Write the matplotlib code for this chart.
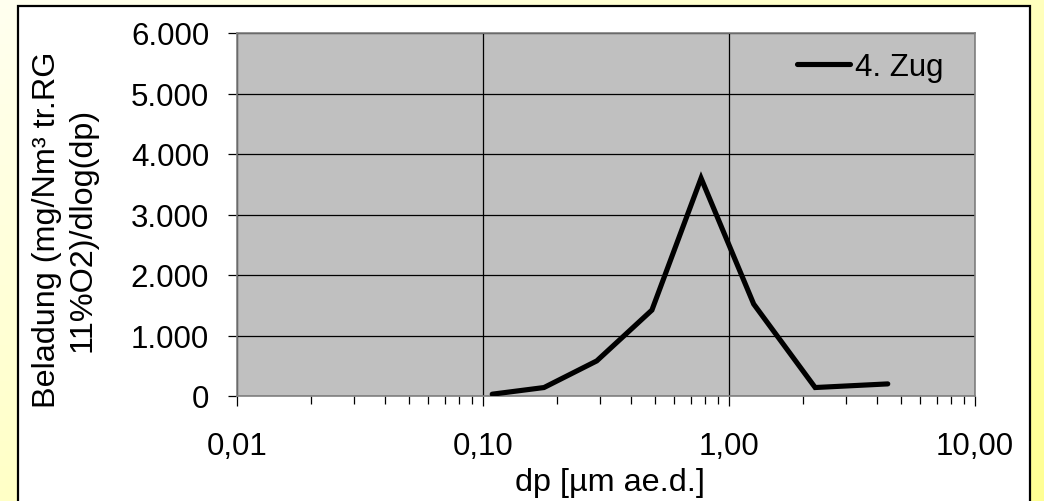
import numpy as np
import matplotlib
matplotlib.use('Agg')
import matplotlib.pyplot as plt
from matplotlib.patches import Rectangle
from matplotlib.ticker import FuncFormatter, LogLocator, FixedLocator

plt.rcParams['font.family'] = ['Liberation Sans', 'DejaVu Sans']

# particle size distribution, 4. Zug
dp = [0.109, 0.177, 0.29, 0.486, 0.77, 1.26, 2.24, 4.42]
beladung = [30, 140, 580, 1420, 3600, 1520, 140, 200]
series_name = '4. Zug'

x_ticks = [0.01, 0.1, 1.0, 10.0]
y_ticks = [0, 1000, 2000, 3000, 4000, 5000, 6000]

FS = 22.5
FS_TITLE = 23.3

fig = plt.figure(figsize=(10.44, 5.02), dpi=100)

# yellow gradient behind the chart area
bg = fig.add_axes([0, 0, 1, 1], zorder=-10)
gx, gy = np.meshgrid(np.linspace(0, 1, 200), np.linspace(0, 1, 100))
grad = np.clip(0.55 * gx + 0.45 * gy, 0, 1)
c0 = np.array([1.0, 1.0, 0.94])
c1 = np.array([1.0, 1.0, 0.58])
img = c0[None, None, :] * (1 - grad[..., None]) + c1[None, None, :] * grad[..., None]
bg.imshow(img, aspect='auto', extent=[0, 1, 0, 1], origin='upper')
bg.axis('off')

# white chart area with black frame
fig.add_artist(Rectangle((18 / 1044, -0.02), (1030 - 18) / 1044, 1.02 - 7 / 502,
                         transform=fig.transFigure, facecolor='white',
                         edgecolor='black', linewidth=1.6, zorder=-5))

ax = fig.add_axes([237 / 1044, 1 - 397 / 502, (975 - 237) / 1044, (397 - 34) / 502])
ax.set_facecolor('#c0c0c0')
ax.plot(dp, beladung, color='black', linewidth=3.7, solid_joinstyle='miter',
        solid_capstyle='round', label=series_name, zorder=3)

ax.set_xscale('log')
ax.set_xlim(0.01, 10)
ax.set_ylim(0, 6000)
ax.xaxis.set_major_locator(FixedLocator(x_ticks))
ax.xaxis.set_minor_locator(LogLocator(base=10, subs=np.arange(2, 10)))
ax.xaxis.set_minor_formatter(FuncFormatter(lambda v, p: ''))
ax.xaxis.set_major_formatter(FuncFormatter(lambda v, p: f'{v:.2f}'.replace('.', ',')))
ax.yaxis.set_major_locator(FixedLocator(y_ticks))
ax.yaxis.set_major_formatter(FuncFormatter(lambda v, p: f'{int(v):,}'.replace(',', '.')))

ax.grid(True, which='major', color='black', linewidth=0.9)
ax.set_axisbelow(True)
for s in ax.spines.values():
    s.set_color('#808080')
    s.set_linewidth(1.2)

ax.tick_params(axis='both', which='major', labelsize=FS, direction='out',
               color='black', width=0.9)
ax.tick_params(axis='y', length=6.5, pad=13.5)
ax.tick_params(axis='x', which='major', length=7.5, pad=17.5)
ax.tick_params(axis='x', which='minor', length=5.5, width=0.9, color='black')

# axis titles
fig.text(610 / 1044, 1 - 483 / 502, 'dp [µm ae.d.]', fontsize=FS_TITLE,
         ha='center', va='center')
fig.text(65 / 1044, 1 - 230 / 502, 'Beladung (mg/Nm³ tr.RG\n11%O2)/dlog(dp)',
         fontsize=FS_TITLE, rotation=90, ha='center', va='center',
         multialignment='center', linespacing=1.22)

ax.legend(loc='center left', bbox_to_anchor=(0.759, 0.906), frameon=False,
          fontsize=FS, handlelength=1.7, handletextpad=0.16, borderpad=0,
          borderaxespad=0)

fig.savefig('out.png', dpi=100)
